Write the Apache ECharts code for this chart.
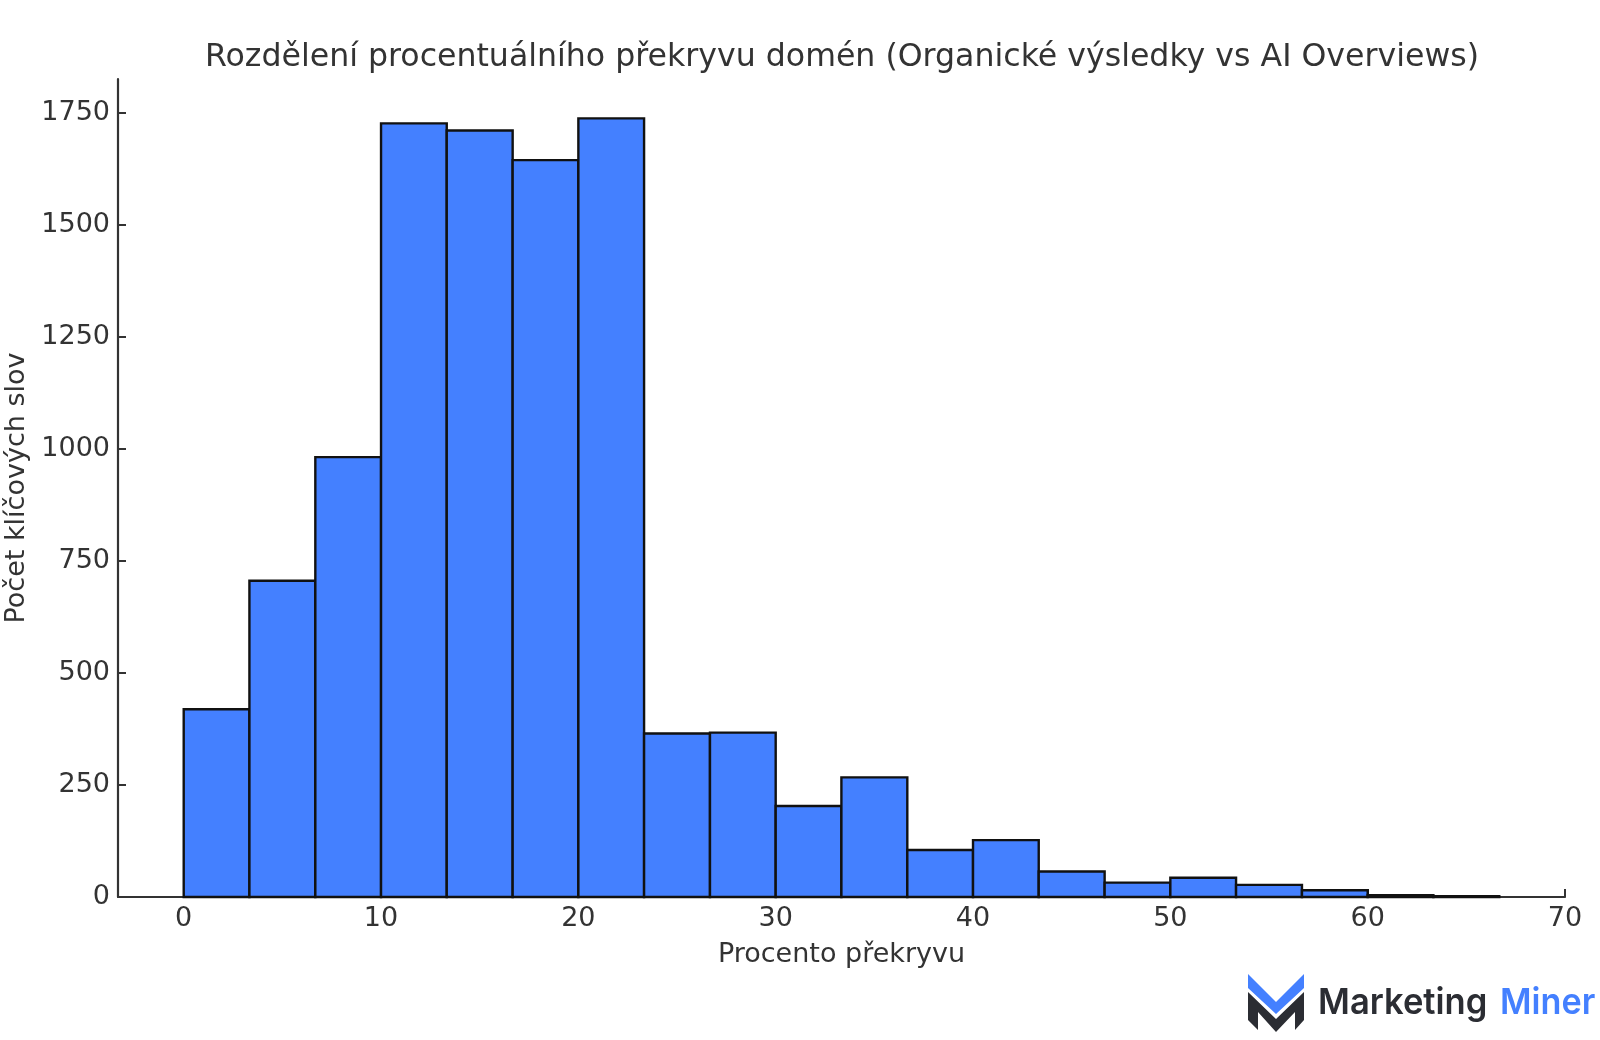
<!DOCTYPE html>
<html>
<head>
<meta charset="utf-8">
<title>Rozdělení překryvu</title>
<style>
  html, body { margin: 0; padding: 0; background: #fff; }
  #chart { width: 1600px; height: 1040px; }
</style>
<script src="https://cdn.jsdelivr.net/npm/echarts@6/dist/echarts.min.js"></script>
</head>
<body>
<div id="chart"></div>
<script>
const titleText = 'Rozdělení procentuálního překryvu domén (Organické výsledky vs AI Overviews)';
const xName = 'Procento překryvu';
const yName = 'Počet klíčových slov';
const binStarts = [0, 3.33, 6.67, 10, 13.33, 16.67, 20, 23.33, 26.67, 30, 33.33, 36.67, 40, 43.33, 46.67, 50, 53.33, 56.67, 60, 63.33];
const binEnds = [3.33, 6.67, 10, 13.33, 16.67, 20, 23.33, 26.67, 30, 33.33, 36.67, 40, 43.33, 46.67, 50, 53.33, 56.67, 60, 63.33, 66.67];
const counts = [419, 706, 982, 1727, 1711, 1645, 1738, 365, 367, 203, 267, 105, 127, 57, 32, 43, 27, 15, 4, 2];
const xTicks = [0, 10, 20, 30, 40, 50, 60, 70];
const yTicks = [0, 250, 500, 750, 1000, 1250, 1500, 1750];

const font = '"DejaVu Sans"';
const ink = '#333333';
const blue = '#4480ff';
const dark = '#2b2d33';

const chart = echarts.init(document.getElementById('chart'), null, { renderer: 'canvas' });

function renderBin(params, api) {
  const start = api.coord([api.value(0), api.value(2)]);
  const end = api.coord([api.value(1), 0]);
  return {
    type: 'rect',
    shape: { x: start[0], y: start[1], width: end[0] - start[0], height: end[1] - start[1] },
    style: { fill: blue, stroke: '#111111', lineWidth: 2.4 }
  };
}

const axisCommon = {
  axisLine: { show: true, onZero: false, lineStyle: { color: ink, width: 2.2 } },
  splitLine: { show: false }
};

chart.setOption({
  animation: false,
  backgroundColor: '#ffffff',
  title: {
    text: titleText,
    left: 837, top: 37, textAlign: 'center',
    textStyle: { fontFamily: font, fontSize: 31.6, fontWeight: 'normal', color: ink }
  },
  grid: { left: 118, right: 35, top: 79, bottom: 143, outerBoundsMode: 'none', containLabel: false },
  xAxis: Object.assign({}, axisCommon, {
    type: 'value', min: -3.33, max: 70,
    name: xName, nameLocation: 'middle', nameGap: 44,
    nameTextStyle: { fontFamily: font, fontSize: 27, color: ink },
    axisTick: { show: true, inside: true, customValues: xTicks, length: 8, lineStyle: { color: ink, width: 2 } },
    axisLabel: { customValues: xTicks, margin: 8, fontFamily: font, fontSize: 27, color: ink, hideOverlap: false, showMinLabel: true, showMaxLabel: true }
  }),
  yAxis: Object.assign({}, axisCommon, {
    type: 'value', min: 0, max: 1826,
    name: yName, nameLocation: 'middle', nameGap: 86, nameRotate: 90,
    nameTextStyle: { fontFamily: font, fontSize: 27, color: ink },
    axisTick: { show: true, inside: true, customValues: yTicks, length: 8, lineStyle: { color: ink, width: 2 } },
    axisLabel: { customValues: yTicks, margin: 8, padding: [7, 0, 0, 0], fontFamily: font, fontSize: 27, color: ink, formatter: function (v) { return String(v); } }
  }),
  series: [{
    type: 'custom',
    renderItem: renderBin,
    encode: { x: [0, 1], y: 2 },
    data: counts.map((c, i) => [binStarts[i], binEnds[i], c]),
    clip: false
  }],
  graphic: [
    { type: 'polygon', shape: { points: [[1248, 974], [1276, 1002], [1304, 974], [1304, 988], [1276, 1014], [1248, 988]] }, style: { fill: blue } },
    { type: 'polygon', shape: { points: [[1248, 992], [1276, 1019], [1304, 992], [1304, 1020], [1295, 1030], [1295, 1012], [1276, 1032], [1258, 1012], [1258, 1030], [1248, 1020]] }, style: { fill: dark } },
    { type: 'text', x: 1318, y: 985, scaleX: 0.96, style: { text: 'Marketing', fontFamily: 'Inter', fontWeight: 600, fontSize: 36, fill: dark } },
    { type: 'text', x: 1500, y: 985, scaleX: 0.95, style: { text: 'Miner', fontFamily: 'Inter', fontWeight: 600, fontSize: 36, fill: blue } }
  ]
});

window.addEventListener('resize', function () { chart.resize(); });
</script>
</body>
</html>
